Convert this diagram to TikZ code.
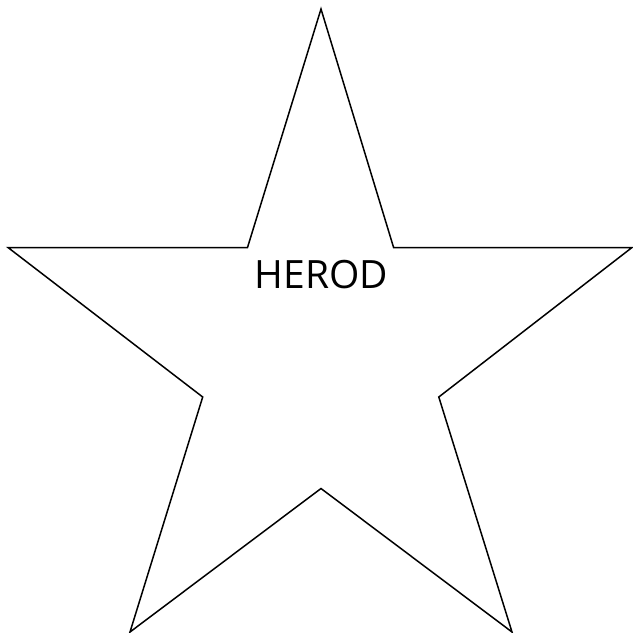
\documentclass[tikz,border=0pt]{standalone}
\usepackage{fontspec}
\setmainfont{Open Sans}
\tikzset{
  starline/.style={draw=black, line width=1.5pt, line join=miter},
  starlabel/.style={font=\fontsize{39}{47}\selectfont, text=black, inner sep=0pt, anchor=base},
}
\begin{document}
\begin{tikzpicture}[x=1pt, y=-1pt]
\useasboundingbox (0,0) rectangle (633,633);

% ---- star outline ----
\coordinate (top) at (321,9);
\coordinate (innerNW) at (247.5,247.5);
\coordinate (left) at (8,247.5);
\coordinate (innerW) at (202.7,397);
\coordinate (botL) at (130,632);
\coordinate (innerS) at (321,488.5);
\coordinate (botR) at (512,632);
\coordinate (innerE) at (438.8,397);
\coordinate (right) at (632,247.5);
\coordinate (innerNE) at (393.6,247.5);

\draw[starline] (top) -- (innerNE) -- (right) -- (innerE) -- (botR) --
  (innerS) -- (botL) -- (innerW) -- (left) -- (innerNW) -- cycle;

% ---- label ----
\node[starlabel] (herod) at (321.5,288) {HEROD};

\end{tikzpicture}
\end{document}
